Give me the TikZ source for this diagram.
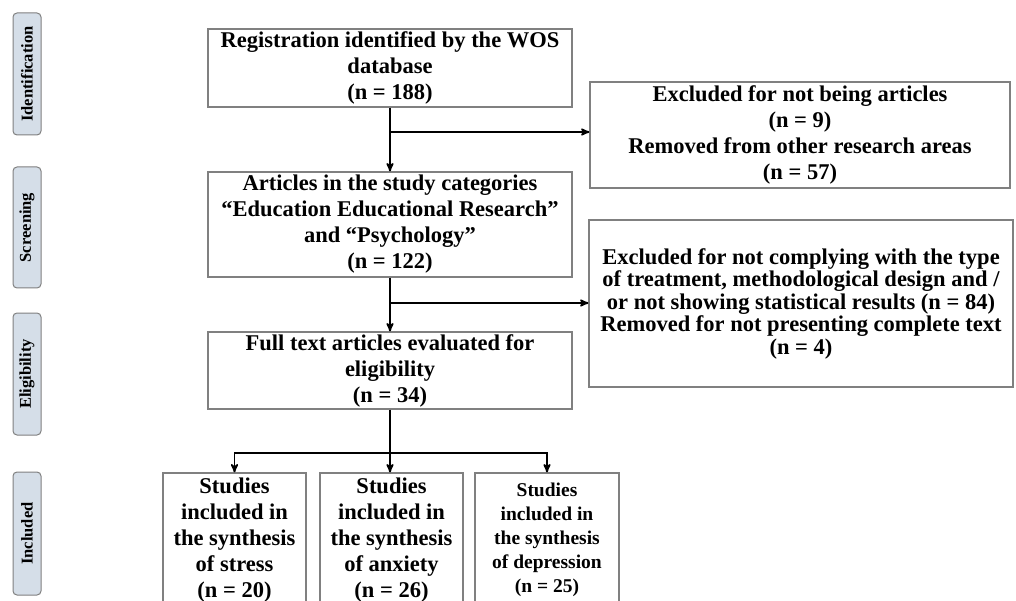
\documentclass[tikz,border=0pt]{standalone}
\usepackage{fontspec}
\setmainfont{Liberation Serif}
\usetikzlibrary{arrows}
\definecolor{stagefill}{HTML}{D5DEE8}
\tikzset{
  flowbox/.style = {align=center, inner sep=0pt, text centered, draw=gray,
    line width=1.2pt, font=\fontsize{22.5}{26}\selectfont\bfseries},
  tightbox/.style = {flowbox, font=\fontsize{22.5}{22.5}\selectfont\bfseries},% long exclusion text
  smallbox/.style = {flowbox, font=\fontsize{19.5}{24}\selectfont\bfseries},% depression box
  stage/.style = {draw=gray, fill=stagefill, rounded corners=4pt, rotate=90,
    inner sep=0pt, minimum height=28pt, line width=1pt,
    font=\fontsize{16.5}{18}\selectfont\bfseries}
}
\begin{document}
\begin{tikzpicture}[x=1pt,y=-1pt,->,>=stealth',line width=1.8pt]
		\clip (0,0) rectangle (1016,601);
		% stages
		\node [stage, minimum width=122pt] (ident) at (27,74) {Identification};
		\node [stage, minimum width=121pt] (screen) at (27,227.5) {Screening};
		\node [stage, minimum width=122pt] (elig) at (27,374) {Eligibility};
		\node [stage, minimum width=123pt] (incl) at (27,533.5) {Included};
		% main column
		\node [flowbox, minimum width=364pt, minimum height=78pt] (reg) at (390,68)
		    {Registration identified by the WOS\\database\\(n = 188)};
		\node [flowbox, minimum width=364pt, minimum height=105pt] (cat) at (390,224.5)
		    {Articles in the study categories\\“Education Educational Research”\\and “Psychology”\\(n = 122)};
		\node [flowbox, minimum width=364pt, minimum height=77pt] (full) at (390,370.5)
		    {Full text articles evaluated for\\eligibility\\(n = 34)};
		% exclusions
		\node [flowbox, minimum width=420pt, minimum height=106pt] (excl1) at (800,135)
		    {Excluded for not being articles\\(n = 9)\\Removed from other research areas\\(n = 57)};
		\node [tightbox, minimum width=424pt, minimum height=167pt] (excl2) at (801,303.5)
		    {Excluded for not complying with the type\\of treatment, methodological design and /\\or not showing statistical results (n = 84)\\Removed for not presenting complete text\\(n = 4)};
		% included studies
		\node [flowbox, minimum width=143pt, minimum height=134pt] (stress) at (234.5,540)
		    {Studies\\included in\\the synthesis\\of stress\\(n = 20)};
		\node [flowbox, minimum width=143pt, minimum height=134pt] (anxiety) at (391.5,540)
		    {Studies\\included in\\the synthesis\\of anxiety\\(n = 26)};
		\node [smallbox, minimum width=144pt, minimum height=134pt] (depress) at (547,540)
		    {Studies\\included in\\the synthesis\\of depression\\(n = 25)};
		% connectors
		\coordinate (split1) at (390,132);
		\coordinate (split2) at (390,303);
		\coordinate (fork) at (390,453);
		\draw (reg) -- (cat);
		\draw (split1) -- (split1 -| excl1.west);
		\draw (cat) -- (full);
		\draw (split2) -- (split2 -| excl2.west);
		\draw [-] (full) -- (fork);
		\draw (fork) -| (stress.north);
		\draw (fork) -- (fork |- anxiety.north);
		\draw (fork) -| (depress.north);
\end{tikzpicture}
\end{document}
